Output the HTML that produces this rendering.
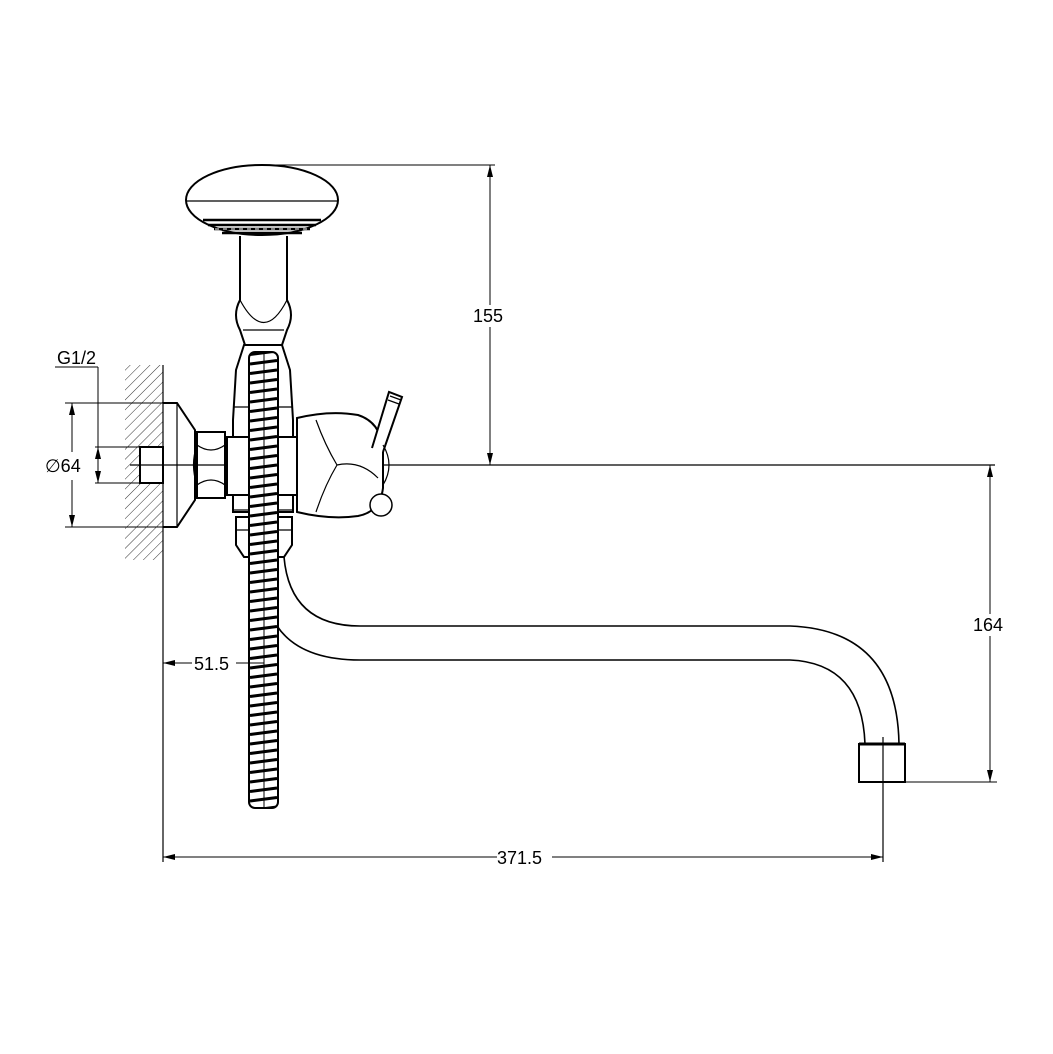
<!DOCTYPE html>
<html><head><meta charset="utf-8"><style>
html,body{margin:0;padding:0;background:#fff}
svg{display:block}
text{font-family:"Liberation Sans",sans-serif;font-size:18px;fill:#000}
</style></head><body>
<svg width="1053" height="1054" viewBox="0 0 1053 1054" xmlns="http://www.w3.org/2000/svg">
<defs>
<pattern id="hatch" width="7" height="7" patternUnits="userSpaceOnUse" patternTransform="rotate(45)">
<line x1="0" y1="0" x2="0" y2="7" stroke="#000" stroke-width="0.8"/>
</pattern>
<pattern id="coil" x="249" y="358" width="29" height="9.5" patternUnits="userSpaceOnUse">
<rect width="29" height="9.5" fill="#fff"/>
<path d="M1 6 L28 2.5" stroke="#000" stroke-width="3"/>
<line x1="15" y1="0" x2="15" y2="9.5" stroke="#000" stroke-width="1"/>
</pattern>
</defs>
<g fill="none" stroke="#000" stroke-width="1.2">
<rect x="125" y="365" width="38" height="195" fill="url(#hatch)" stroke="none"/>
<rect x="140" y="447" width="24" height="36" fill="#fff" stroke="none"/>
<line x1="163" y1="365" x2="163" y2="862"/>
<line x1="130" y1="465" x2="995" y2="465"/>
<rect x="140" y="447" width="23" height="36" stroke-width="2"/>
<path d="M163 403 H177 L195 430 V500 L177 527 H163" stroke-width="2"/>
<line x1="177" y1="403" x2="177" y2="527"/>
<path d="M197 432 H225 V498 H197 Z" stroke-width="2"/>
<path d="M197 445 Q211 455 225 445 M197 485 Q211 475 225 485 M197 445 Q190 465 197 485 M225 445 Q232 465 225 485"/>
<path d="M244 345 L236 370 L233 420 V512 H293 V420 L290 370 L282 345 Z" stroke-width="2"/>
<rect x="227" y="437" width="70" height="58" stroke-width="2" fill="#fff"/>
<line x1="233" y1="407" x2="293" y2="407"/>
<line x1="233" y1="510" x2="293" y2="510"/>
<path d="M236 517 H292 V545 L284 557 H244 L236 545 Z" stroke-width="2"/>
<line x1="236" y1="530" x2="292" y2="530"/>
<path d="M240 252 V300 Q232 315 240 330 L245 345 M287 252 V300 Q295 315 287 330 L282 345" stroke-width="2"/>
<path d="M240 300 Q264 345 287 300"/>
<line x1="243" y1="330" x2="284" y2="330"/>
<ellipse cx="262" cy="200" rx="76" ry="35" stroke-width="2" fill="#fff"/>
<line x1="186" y1="201" x2="338" y2="201"/>
<path d="M203 220 H321 M208 225 H316 M214 229 H310 M222 233 H302" stroke-width="2.5"/>
<path d="M215 229 H310" stroke="#fff" stroke-width="1" stroke-dasharray="4 4"/>
<rect x="240" y="236" width="47" height="18" fill="#fff" stroke="none"/>
<line x1="240" y1="236" x2="240" y2="300" stroke-width="2"/>
<line x1="287" y1="236" x2="287" y2="300" stroke-width="2"/>
<!-- handle -->
<path d="M297 418 Q330 410 358 415 Q380 422 383 448 V488 Q380 512 358 516 Q330 520 297 512 Z" stroke-width="2" fill="#fff"/>
<path d="M316 420 Q325 445 337 465 Q325 485 316 512 M337 465 Q360 460 378 478"/>
<path d="M372 448 L389 392 L402 397 L383 452" stroke-width="2" fill="#fff"/>
<path d="M390 396 L401 400 M388 400 L399 404"/>
<circle cx="381" cy="505" r="11" stroke-width="1.5" fill="#fff"/>
<path d="M383 445 Q395 465 383 485"/>
<!-- spout -->
<path d="M284 557 Q290 626 360 626 H790 Q897 630 899 744" stroke-width="1.6"/>
<path d="M277 626 Q300 660 360 660 H790 Q862 663 865 744" stroke-width="1.6"/>
<rect x="859" y="744" width="46" height="38" stroke-width="2" fill="#fff"/>
<line x1="859" y1="744" x2="905" y2="744" stroke-width="3"/>
<line x1="883" y1="737" x2="883" y2="862"/>
<!-- hose -->
<rect x="249" y="352" width="29" height="456" rx="6" stroke-width="2" fill="url(#coil)"/>
</g>
<g stroke="#000" stroke-width="1" fill="none">
<line x1="255" y1="165" x2="495" y2="165"/>
<line x1="490" y1="165" x2="490" y2="465"/>
<line x1="905" y1="782" x2="997" y2="782"/>
<line x1="990" y1="465" x2="990" y2="782"/>
<line x1="163" y1="857" x2="883" y2="857"/>
<line x1="163" y1="663" x2="192" y2="663"/>
<line x1="236" y1="663" x2="264" y2="663"/>
<line x1="65" y1="403" x2="163" y2="403"/>
<line x1="65" y1="527" x2="163" y2="527"/>
<line x1="72" y1="403" x2="72" y2="452"/>
<line x1="72" y1="480" x2="72" y2="527"/>
<line x1="55" y1="367" x2="98" y2="367"/>
<line x1="98" y1="367" x2="98" y2="483"/>
<line x1="95" y1="447" x2="140" y2="447"/>
<line x1="95" y1="483" x2="140" y2="483"/>
</g>
<g fill="#000">
<path d="M490 165 l-3 12 h6 z"/><path d="M490 465 l-3 -12 h6 z"/>
<path d="M990 465 l-3 12 h6 z"/><path d="M990 782 l-3 -12 h6 z"/>
<path d="M163 857 l12 -3 v6 z"/><path d="M883 857 l-12 -3 v6 z"/>
<path d="M163 663 l12 -3 v6 z"/>
<path d="M72 403 l-3 12 h6 z"/><path d="M72 527 l-3 -12 h6 z"/>
<path d="M98 447 l-3 12 h6 z"/><path d="M98 483 l-3 -12 h6 z"/>
</g>
<rect x="470" y="305" width="40" height="22" fill="#fff"/>
<text x="473" y="322">155</text>
<rect x="970" y="614" width="40" height="22" fill="#fff"/>
<text x="973" y="631">164</text>
<rect x="497" y="847" width="55" height="22" fill="#fff"/>
<text x="497" y="864">371.5</text>
<text x="194" y="670">51.5</text>
<text x="45" y="472">∅64</text>
<text x="57" y="364">G1/2</text>
</svg>
</body></html>
